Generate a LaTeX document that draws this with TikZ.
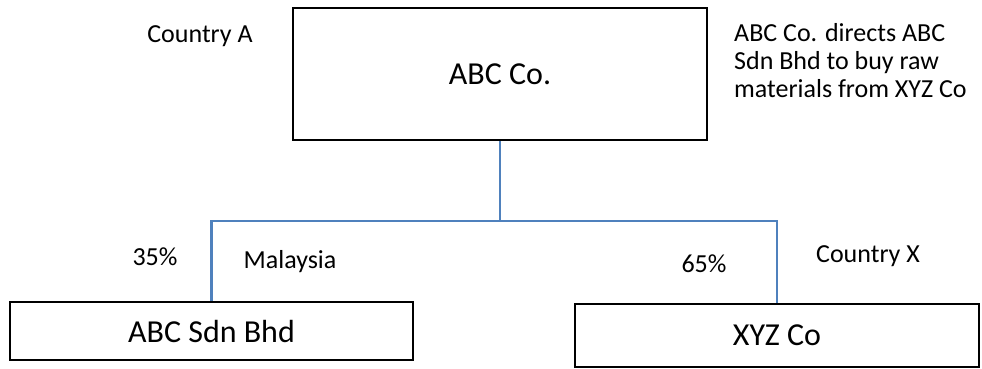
\documentclass[tikz,border=0pt]{standalone}
\usepackage{fontspec}
\setmainfont{Carlito}
\usetikzlibrary{positioning}
\definecolor{linkblue}{RGB}{79,129,189}
\tikzset{
  box/.style={draw=black, line width=2.6pt, inner sep=0pt, font=\fontsize{32}{38}\selectfont},
  lbl/.style={inner sep=0pt, font=\fontsize{26}{28}\selectfont},
  link/.style={draw=linkblue, line width=2.2pt}
}
\begin{document}
\begin{tikzpicture}[x=1pt,y=-1pt]
  %%%%% START %%%%%
  \useasboundingbox (0,0) rectangle (982,368);

  % company boxes
  \node[box, minimum width=414pt, minimum height=132pt] (abc) at (500,74) {ABC Co.};
  \node[box, minimum width=403pt, minimum height=58pt] (sdn) at (211.5,331) {ABC Sdn Bhd};
  \node[box, minimum width=404pt, minimum height=63pt] (xyz) at (777,335.5) {XYZ Co};

  % ownership lines
  \coordinate (split) at (500,221);
  \draw[link] (abc.south) -- (split);
  \draw[link] (sdn.north) |- (split) -| (xyz.north);

  % labels
  \node[lbl] (cntA) at (200,36) {Country A};
  \node[lbl, align=left, anchor=west] (note) at (734,61) {ABC Co. directs ABC\\Sdn Bhd to buy raw\\materials from XYZ Co};
  \node[lbl] (pctA) at (155,257) {35\%};
  \node[lbl] (mys) at (290,262) {Malaysia};
  \node[lbl] (pctB) at (704,264) {65\%};
  \node[lbl] (cntX) at (868,256) {Country X};
  %%%%% END %%%%%
\end{tikzpicture}
\end{document}
